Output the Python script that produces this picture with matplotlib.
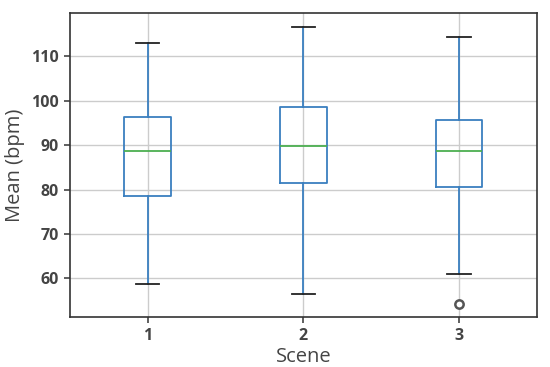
import matplotlib
matplotlib.use("Agg")
import matplotlib.pyplot as plt

# box statistics (bpm)
scenes = ["1", "2", "3"]
medians = [88.8, 89.8, 88.8]
q1 = [78.5, 81.5, 80.7]
q3 = [96.3, 98.5, 95.6]
whisker_low = [58.7, 56.6, 61.0]
whisker_high = [112.9, 116.7, 114.4]
outliers = [[], [], [54.3]]

stats = []
for i, name in enumerate(scenes):
    stats.append({
        "label": name,
        "med": medians[i],
        "q1": q1[i],
        "q3": q3[i],
        "whislo": whisker_low[i],
        "whishi": whisker_high[i],
        "fliers": outliers[i],
    })

fig = plt.figure(figsize=(5.5, 3.67), dpi=100)
ax = fig.add_axes([0.127, 0.136, 0.849, 0.829])

ax.bxp(
    stats,
    widths=0.3,
    boxprops=dict(color="#3a7fbf", linewidth=1.3),
    whiskerprops=dict(color="#3a7fbf", linewidth=1.3),
    medianprops=dict(color="#4caf50", linewidth=1.3),
    capprops=dict(color="#222222", linewidth=1.3),
    flierprops=dict(marker="o", markerfacecolor="white", markeredgecolor="#555555",
                    markersize=6, markeredgewidth=1.8),
)

ax.set_ylim(51.3, 119.8)
ax.set_xlim(0.5, 3.5)
ax.set_yticks([60, 70, 80, 90, 100, 110])
ax.grid(True, color="#cccccc", linewidth=1.0)
ax.set_axisbelow(True)

for s in ax.spines.values():
    s.set_color("#333333")
    s.set_linewidth(1.2)

ax.tick_params(colors="#444444", labelsize=11.5, length=4, width=1.2, pad=4)
for lab in ax.get_xticklabels() + ax.get_yticklabels():
    lab.set_fontweight("bold")
    lab.set_fontfamily("Open Sans")
    lab.set_color("#444444")

ax.set_xlabel("Scene", fontsize=14.5, color="#444444", family="Open Sans", labelpad=2)
ax.set_ylabel("Mean (bpm)", fontsize=14.5, color="#444444", family="Open Sans", labelpad=4)

fig.savefig("out.png", dpi=100)
